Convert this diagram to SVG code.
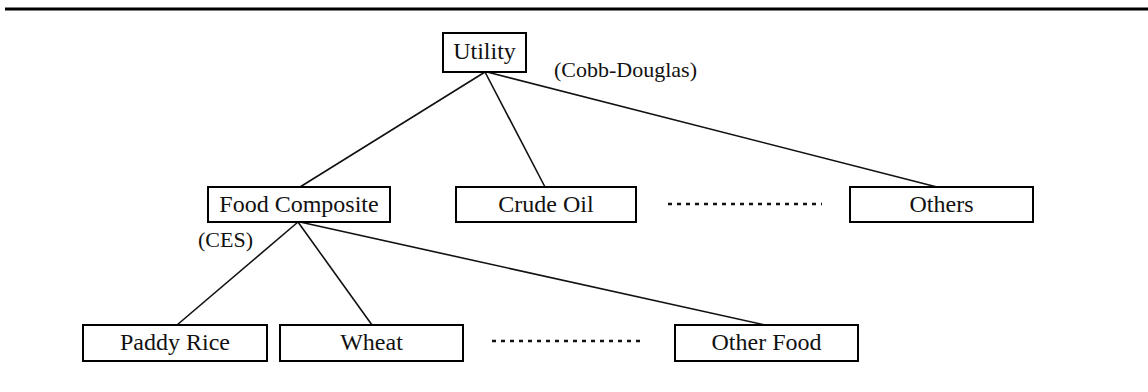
<svg xmlns="http://www.w3.org/2000/svg" width="1148" height="392" viewBox="0 0 1148 392">
<style>
.box{fill:#fff;stroke:#000;stroke-width:2}
.t{font-family:"Liberation Serif","Times New Roman",serif;font-size:24px;fill:#111;text-anchor:middle}
.l{font-family:"Liberation Serif","Times New Roman",serif;font-size:22px;fill:#111}
.c{stroke:#111;stroke-width:1.6;fill:none}
.d{stroke:#111;stroke-width:2.5;stroke-dasharray:4 5;fill:none}
</style>
<rect width="1148" height="392" fill="#fff"/>
<line x1="5" y1="9" x2="1148" y2="9" stroke="#000" stroke-width="3"/>
<g id="connectors">
<line class="c" x1="485" y1="72" x2="300" y2="187"/>
<line class="c" x1="485" y1="72" x2="545" y2="187"/>
<line class="c" x1="487" y1="72" x2="937" y2="187"/>
<line class="c" x1="298" y1="222" x2="177" y2="325"/>
<line class="c" x1="298" y1="222" x2="372" y2="325"/>
<line class="c" x1="300" y1="222" x2="765" y2="325"/>
<line class="d" x1="668" y1="204" x2="822" y2="204"/>
<line class="d" x1="492" y1="341" x2="645" y2="341"/>
</g>
<g id="utility"><rect class="box" x="443" y="33" width="83" height="39"/><text class="t" x="484.5" y="59">Utility</text></g>
<text class="l" x="554" y="77">(Cobb-Douglas)</text>
<g id="food"><rect class="box" x="208" y="187" width="182" height="35"/><text class="t" x="299" y="212">Food Composite</text></g>
<text class="l" x="198" y="247">(CES)</text>
<g id="crude"><rect class="box" x="456" y="187" width="180" height="35"/><text class="t" x="546" y="212">Crude Oil</text></g>
<g id="others"><rect class="box" x="850" y="187" width="183" height="35"/><text class="t" x="941.5" y="212">Others</text></g>
<g id="paddy"><rect class="box" x="83" y="325" width="184" height="36"/><text class="t" x="175" y="350">Paddy Rice</text></g>
<g id="wheat"><rect class="box" x="280" y="325" width="183" height="36"/><text class="t" x="371.5" y="350">Wheat</text></g>
<g id="otherfood"><rect class="box" x="675" y="325" width="183" height="36"/><text class="t" x="766.5" y="350">Other Food</text></g>
</svg>
